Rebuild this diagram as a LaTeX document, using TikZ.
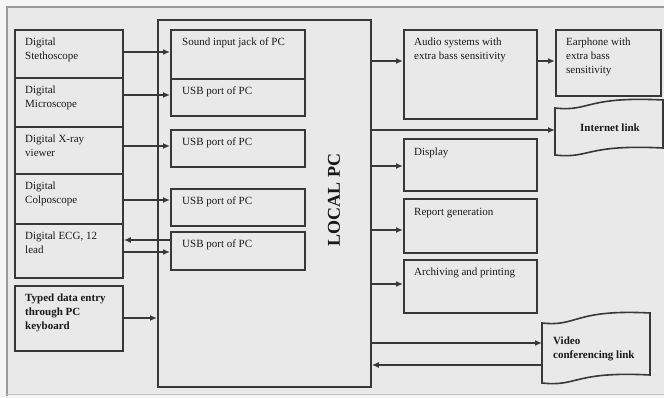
\documentclass[tikz,border=0pt]{standalone}
\usepackage{fontspec}
\setmainfont{Liberation Serif}
\usetikzlibrary{arrows.meta}
\definecolor{bg}{HTML}{E9E9E9}
\definecolor{lc}{HTML}{383838}
\definecolor{fr}{HTML}{9A9A9A}
\begin{document}
\begin{tikzpicture}[x=1pt,y=-1pt,
  blk/.style={draw=lc, line width=1.8pt, inner sep=0pt, anchor=north west},
  txt/.style={anchor=north west, align=left, inner sep=0pt, text=black!90,
    font=\fontsize{11}{14}\selectfont},
  btxt/.style={txt, font=\fontsize{11}{14}\selectfont\bfseries},
  arr/.style={draw=lc, line width=1.6pt, -{Latex[length=7pt,width=6pt]}},
  tapeln/.style={draw=lc, line width=1.6pt}]
\useasboundingbox (0,0) rectangle (664,398);
\fill[white!96!black] (0,0) rectangle (664,398);
\fill[bg] (7,7) rectangle (664,394);
\draw[fr, line width=1.2pt] (7,396) -- (7,7) -- (664,7);
\draw[fr!60, line width=0.6pt] (7,394) -- (664,394);

% left devices
\node[blk, minimum width=108pt, minimum height=48pt] (steth) at (14,29) {};
\node[blk, minimum width=108pt, minimum height=49pt] (micro) at (14,77) {};
\node[blk, minimum width=108pt, minimum height=47pt] (xray) at (14,126) {};
\node[blk, minimum width=108pt, minimum height=50pt] (colpo) at (14,173) {};
\node[blk, minimum width=108pt, minimum height=54pt] (ecg) at (14,223) {};
\node[blk, minimum width=108pt, minimum height=65pt] (typed) at (14,285) {};
\node[txt] (tsteth) at ([xshift=11pt,yshift=-9pt]steth.north west) {Digital\\Stethoscope};
\node[txt] (tmicro) at ([xshift=11pt,yshift=-9pt]micro.north west) {Digital\\Microscope};
\node[txt] (txray) at ([xshift=11pt,yshift=-9pt]xray.north west) {Digital X-ray\\viewer};
\node[txt] (tcolpo) at ([xshift=11pt,yshift=-9pt]colpo.north west) {Digital\\Colposcope};
\node[txt] (tecg) at ([xshift=11pt,yshift=-9pt]ecg.north west) {Digital ECG, 12\\lead};
\node[btxt] (ttyped) at ([xshift=11pt,yshift=-9pt]typed.north west) {Typed data entry\\through PC\\keyboard};

% local PC
\node[blk, minimum width=213pt, minimum height=367pt] (pc) at (157,19) {};
\node[font=\fontsize{18}{20}\selectfont\bfseries, rotate=90, inner sep=0pt, text=black!90] (pclab) at (334,200) {LOCAL PC};

% ports
\node[blk, minimum width=134pt, minimum height=49pt] (sound) at (170,29) {};
\node[blk, minimum width=134pt, minimum height=37pt] (usba) at (170,78) {};
\node[blk, minimum width=134pt, minimum height=37pt] (usbb) at (170,129) {};
\node[blk, minimum width=134pt, minimum height=37pt] (usbc) at (170,188) {};
\node[blk, minimum width=134pt, minimum height=38pt] (usbd) at (170,231) {};
\node[txt] (tsound) at ([xshift=12pt,yshift=-9pt]sound.north west) {Sound input jack of PC};
\node[txt] (tusba) at ([xshift=12pt,yshift=-9pt]usba.north west) {USB port of PC};
\node[txt] (tusbb) at ([xshift=12pt,yshift=-9pt]usbb.north west) {USB port of PC};
\node[txt] (tusbc) at ([xshift=12pt,yshift=-9pt]usbc.north west) {USB port of PC};
\node[txt] (tusbd) at ([xshift=12pt,yshift=-9pt]usbd.north west) {USB port of PC};

% outputs
\node[blk, minimum width=133pt, minimum height=89pt] (audio) at (403,29) {};
\node[blk, minimum width=105pt, minimum height=66pt] (ear) at (555,29) {};
\node[blk, minimum width=133pt, minimum height=52pt] (disp) at (403,138) {};
\node[blk, minimum width=133pt, minimum height=54pt] (rep) at (403,198) {};
\node[blk, minimum width=133pt, minimum height=53pt] (arch) at (403,259) {};
\node[txt] (taudio) at ([xshift=11pt,yshift=-9pt]audio.north west) {Audio systems with\\extra bass sensitivity};
\node[txt] (tear) at ([xshift=11pt,yshift=-9pt]ear.north west) {Earphone with\\extra bass\\sensitivity};
\node[txt] (tdisp) at ([xshift=11pt,yshift=-10pt]disp.north west) {Display};
\node[txt] (trep) at ([xshift=11pt,yshift=-10pt]rep.north west) {Report generation};
\node[txt] (tarch) at ([xshift=11pt,yshift=-9pt]arch.north west) {Archiving and printing};

% internet link tape
\draw[tapeln] (555,108) .. controls (590,112) and (585,96) .. (663,100)
  -- (663,148) .. controls (585,144) and (590,159) .. (555,155) -- cycle;
\coordinate (inet) at (555,130);
\node[btxt, anchor=center] (tinet) at (610,128) {Internet link};

% video conferencing tape
\draw[tapeln] (542,323) .. controls (578,327) and (573,309) .. (650,313)
  -- (650,375) .. controls (573,371) and (578,387) .. (542,383) -- cycle;
\coordinate (video) at (542,343);
\coordinate (videob) at (542,365);
\node[btxt] (tvideo) at (553,337) {Video\\conferencing link};

% arrows in
\draw[arr] (steth.east |- 0,52) -- (sound.west |- 0,52);
\draw[arr] (micro.east |- 0,95) -- (usba.west |- 0,95);
\draw[arr] (xray.east |- 0,146) -- (usbb.west |- 0,146);
\draw[arr] (colpo.east |- 0,200) -- (usbc.west |- 0,200);
\draw[arr] (usbd.west |- 0,240) -- (ecg.east |- 0,240);
\draw[arr] (ecg.east |- 0,252) -- (usbd.west |- 0,252);
\draw[arr] (typed.east |- 0,318) -- (pc.west |- 0,318);

% arrows out
\draw[arr] (pc.east |- 0,61) -- (audio.west |- 0,61);
\draw[arr] (audio.east |- 0,61) -- (ear.west |- 0,61);
\draw[arr] (pc.east |- inet) -- (inet);
\draw[arr] (pc.east |- 0,166) -- (disp.west |- 0,166);
\draw[arr] (pc.east |- 0,230) -- (rep.west |- 0,230);
\draw[arr] (pc.east |- 0,284) -- (arch.west |- 0,284);
\draw[arr] (pc.east |- video) -- (video);
\draw[arr] (videob) -- (pc.east |- videob);
\end{tikzpicture}
\end{document}
